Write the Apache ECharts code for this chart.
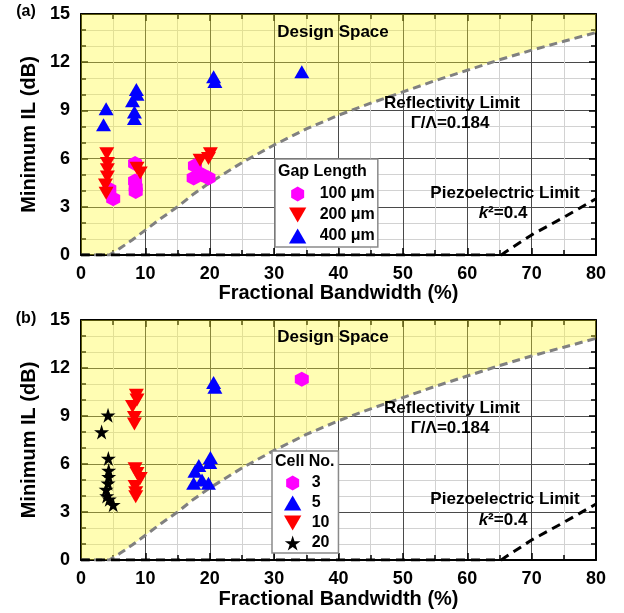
<!DOCTYPE html>
<html>
<head>
<meta charset="utf-8">
<script src="https://cdn.jsdelivr.net/npm/echarts@6/dist/echarts.min.js"></script>
<style>
html,body{margin:0;padding:0;background:#fff}
#chart{width:624px;height:613px}
</style>
</head>
<body>
<div id="chart"></div>
<script>
// Limit curves: [fractional bandwidth %, minimum IL dB]
const reflectivityLimit = [[0,0],[4.4,0],[6,0.4],[8,0.95],[10,1.55],[12.5,2.3],[15,3.0],[17.5,3.8],[20,4.5],[25,5.75],[30,6.85],[35,7.85],[40,8.7],[45,9.45],[50,10.15],[55,10.85],[60,11.5],[65,12.15],[70,12.75],[75,13.3],[80,13.85]];
const piezoLimit = [[0,0],[65.3,0],[66,0.2],[70,1.25],[75,2.35],[80,3.5]];

// (a) grouped by gap length
const gap100 = [[4.4,4.1],[5.0,3.5],[8.4,5.7],[8.4,4.6],[8.5,4.2],[8.5,3.95],[17.7,5.55],[17.5,4.8],[18.8,5.0],[19.8,4.8]];
const gap200 = [[4.0,6.3],[4.1,5.7],[4.1,5.3],[4.1,4.85],[3.8,4.35],[3.9,3.85],[8.7,5.4],[9.2,5.1],[18.5,5.9],[20.1,6.3],[19.8,6.0]];
const gap400 = [[3.5,8.1],[3.9,9.1],[8.3,8.5],[8.3,8.9],[8.0,9.6],[8.7,10.0],[8.6,10.3],[20.6,11.1],[20.8,10.8],[34.3,11.4]];

// (b) grouped by number of cells
const cell3 = [[34.3,11.3]];
const cell5 = [[20.6,11.1],[20.8,10.8],[17.7,5.55],[17.5,4.8],[18.8,5.0],[19.8,4.8],[18.3,5.9],[20.1,6.4],[20.0,6.1]];
const cell10 = [[8.3,8.5],[8.3,8.9],[8.0,9.6],[8.7,10.0],[8.6,10.3],[8.4,5.7],[8.4,4.6],[8.5,4.2],[8.5,3.95],[8.7,5.4],[9.2,5.1]];
const cell20 = [[3.2,8.0],[4.2,9.05],[4.25,6.35],[4.3,5.6],[4.3,5.2],[4.2,4.8],[3.9,4.4],[4.0,4.0],[4.4,3.8],[5.0,3.45]];

const gapNames = ['100 μm', '200 μm', '400 μm'];
const cellNames = ['3', '5', '10', '20'];

const FONT = '"Liberation Sans", Arial, sans-serif';
const HEX = 'path://M0,-1 L0.866,-0.5 L0.866,0.5 L0,1 L-0.866,0.5 L-0.866,-0.5 Z';
const TRI_UP = 'path://M1,0 L2,1.732 L0,1.732 Z';
const TRI_DOWN = 'path://M0,0 L2,0 L1,1.732 Z';
const STAR = 'path://M0,-1 L0.224,-0.309 L0.951,-0.309 L0.363,0.118 L0.588,0.809 L0,0.382 L-0.588,0.809 L-0.363,0.118 L-0.951,-0.309 L-0.224,-0.309 Z';

const MAGENTA = '#ff00ff', RED = '#ff0000', BLUE = '#0000ff', BLACK = '#000000';

function xAxisFor(grid, top) {
  return {
    type: 'value', gridIndex: grid, position: top ? 'top' : 'bottom',
    min: 0, max: 80, interval: 10,
    name: top ? '' : 'Fractional Bandwidth (%)',
    nameLocation: 'middle', nameGap: grid === 0 ? 28 : 29,
    nameTextStyle: { fontFamily: FONT, fontWeight: 'bold', fontSize: 20, color: '#000' },
    axisLine: { show: true, onZero: false, lineStyle: { color: '#000', width: 2 } },
    axisTick: { show: true, inside: true, length: 7, lineStyle: { color: '#000', width: 1.5 } },
    minorTick: { show: true, splitNumber: 2, length: 5, lineStyle: { color: '#000', width: 1.5 } },
    axisLabel: { show: !top, margin: 10, fontFamily: FONT, fontWeight: 'bold', fontSize: 18, color: '#000' },
    splitLine: { show: !top, lineStyle: { color: '#4a4a4a', width: 1 } },
    minorSplitLine: { show: !top, lineStyle: { color: '#d2d2d2', width: 1 } }
  };
}

function yAxisFor(grid, right) {
  return {
    type: 'value', gridIndex: grid, position: right ? 'right' : 'left',
    min: 0, max: 15, interval: 3,
    name: right ? '' : 'Minimum IL (dB)',
    nameLocation: 'middle', nameGap: 41,
    nameTextStyle: { fontFamily: FONT, fontWeight: 'bold', fontSize: 20, color: '#000' },
    axisLine: { show: true, onZero: false, lineStyle: { color: '#000', width: 2 } },
    axisTick: { show: true, inside: true, length: 7, lineStyle: { color: '#000', width: 1.5 } },
    minorTick: { show: true, splitNumber: 3, length: 5, lineStyle: { color: '#000', width: 1.5 } },
    axisLabel: { show: !right, margin: 11, fontFamily: FONT, fontWeight: 'bold', fontSize: 18, color: '#000' },
    splitLine: { show: !right, lineStyle: { color: '#4a4a4a', width: 1 } },
    minorSplitLine: { show: !right, lineStyle: { color: '#d2d2d2', width: 1 } }
  };
}

function limitSeries(xi, yi) {
  return [
    {
      type: 'line', name: 'reflectivity', xAxisIndex: xi, yAxisIndex: yi,
      data: reflectivityLimit, showSymbol: false, silent: true, z: 1,
      lineStyle: { color: '#808080', width: 3, type: [8, 5] },
      areaStyle: { origin: 'end', color: 'rgba(255,250,40,0.5)' }
    },
    {
      type: 'line', name: 'piezo', xAxisIndex: xi, yAxisIndex: yi,
      data: piezoLimit, showSymbol: false, silent: true, z: 1,
      lineStyle: { color: '#000', width: 3, type: [9, 6] }
    }
  ];
}

function scatter(name, data, symbol, size, color, xi, yi) {
  return {
    type: 'scatter', name, data, symbol, symbolSize: size,
    xAxisIndex: xi, yAxisIndex: yi,
    itemStyle: { color, opacity: 1 }, z: 3
  };
}

function txt(text, x, y, size, extra) {
  return Object.assign({
    type: 'text', x, y, z: 100,
    style: {
      text, fontFamily: FONT, fontWeight: 'bold', fontSize: size, fill: '#000',
      align: 'center', verticalAlign: 'middle', textAlign: 'center', textVerticalAlign: 'middle'
    }
  }, extra || {});
}

function kText(x, y) {
  return {
    type: 'text', x, y, z: 100,
    style: {
      text: '{i|k}²=0.4', fontFamily: FONT, fontWeight: 'bold', fontSize: 17, fill: '#000',
      align: 'center', verticalAlign: 'middle', textAlign: 'center', textVerticalAlign: 'middle',
      rich: { i: { fontFamily: FONT, fontWeight: 'bold', fontStyle: 'italic', fontSize: 17, fill: '#000' } }
    }
  };
}

function leftTxt(text, x, y, size) {
  const t = txt(text, x, y, size);
  t.style.align = 'left'; t.style.textAlign = 'left';
  return t;
}

const legendText = { fontFamily: FONT, fontWeight: 'bold', fontSize: 16, color: '#000' };

const option = {
  animation: false,
  backgroundColor: '#fff',
  grid: [
    { left: 81, top: 14, width: 515, height: 241 },
    { left: 81, top: 320, width: 515, height: 240 }
  ],
  xAxis: [xAxisFor(0, false), xAxisFor(0, true), xAxisFor(1, false), xAxisFor(1, true)],
  yAxis: [yAxisFor(0, false), yAxisFor(0, true), yAxisFor(1, false), yAxisFor(1, true)],
  legend: [
    {
      left: 275, top: 159, orient: 'vertical', selectedMode: false,
      data: [
        { name: gapNames[0], icon: HEX },
        { name: gapNames[1], icon: TRI_DOWN },
        { name: gapNames[2], icon: TRI_UP }
      ],
      itemWidth: 34, itemHeight: 15, itemGap: 5,
      padding: [27, 3, 3, 14],
      backgroundColor: '#fff', borderColor: '#8a8a8a', borderWidth: 1.5, borderRadius: 0,
      textStyle: legendText
    },
    {
      left: 272, top: 451, orient: 'vertical', selectedMode: false,
      data: [
        { name: cellNames[0], icon: HEX },
        { name: cellNames[1], icon: TRI_UP },
        { name: cellNames[2], icon: TRI_DOWN },
        { name: cellNames[3], icon: STAR }
      ],
      itemWidth: 28, itemHeight: 15, itemGap: 4,
      padding: [24, 9, 2, 12],
      backgroundColor: '#fff', borderColor: '#8a8a8a', borderWidth: 1.5, borderRadius: 0,
      textStyle: legendText
    }
  ],
  graphic: [
    txt('(a)', 26, 12, 16),
    txt('(b)', 26, 319, 16),
    txt('Design Space', 333, 32, 17),
    txt('Design Space', 333, 337, 17),
    txt('Reflectivity Limit', 452, 103, 17),
    txt('Γ/Λ=0.184', 450, 123, 17),
    txt('Reflectivity Limit', 452, 408, 17),
    txt('Γ/Λ=0.184', 450, 428, 17),
    txt('Piezoelectric Limit', 505, 193, 17),
    kText(503, 213),
    txt('Piezoelectric Limit', 505, 499, 17),
    kText(503, 520),
    leftTxt('Gap Length', 278, 172, 16),
    leftTxt('Cell No.', 275, 462, 16)
  ],
  series: [
    ...limitSeries(0, 0),
    scatter(gapNames[0], gap100, HEX, [14, 15], MAGENTA, 0, 0),
    scatter(gapNames[1], gap200, TRI_DOWN, [15, 13], RED, 0, 0),
    scatter(gapNames[2], gap400, TRI_UP, [15, 13], BLUE, 0, 0),
    ...limitSeries(2, 2),
    scatter(cellNames[0], cell3, HEX, [14, 15], MAGENTA, 2, 2),
    scatter(cellNames[1], cell5, TRI_UP, [15, 13], BLUE, 2, 2),
    scatter(cellNames[2], cell10, TRI_DOWN, [15, 13], RED, 2, 2),
    scatter(cellNames[3], cell20, STAR, [15, 15], BLACK, 2, 2)
  ]
};

const chart = echarts.init(document.getElementById('chart'), null, { renderer: 'canvas' });
chart.setOption(option);
</script>
</body>
</html>
